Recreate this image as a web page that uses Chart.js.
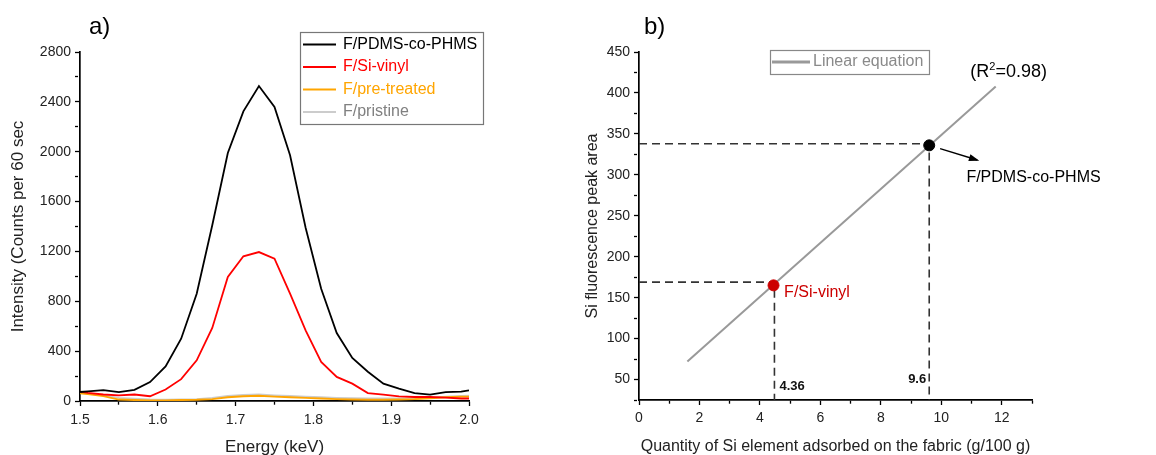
<!DOCTYPE html>
<html>
<head>
<meta charset="utf-8">
<script src="https://cdn.jsdelivr.net/npm/chart.js@4.4.0/dist/chart.umd.min.js"></script>
<style>
  body { margin: 0; background: #fff; overflow: hidden; }
  #wrap { position: relative; width: 1156px; height: 455px; }
  canvas { position: absolute; top: 0; }
  #chartA { left: 0; }
  #chartB { left: 578px; }
</style>
</head>
<body>
<div id="wrap">
  <canvas id="chartA" width="578" height="455"></canvas>
  <canvas id="chartB" width="578" height="455"></canvas>
</div>
<script>
// ---- panel a) : XRF spectra ----
var energy = [1.50, 1.51, 1.53, 1.55, 1.57, 1.59, 1.61, 1.63, 1.65, 1.67, 1.69, 1.71, 1.73, 1.75,
              1.77, 1.79, 1.81, 1.83, 1.85, 1.87, 1.89, 1.91, 1.93, 1.95, 1.97, 1.99, 2.00];
var pdms = [72, 78, 88, 72, 90, 152, 278, 500, 861, 1410, 1990, 2324, 2527, 2359,
            1971, 1390, 901, 545, 345, 235, 139, 99, 64, 51, 72, 75, 85];
var siVinyl = [75, 65, 52, 45, 52, 38, 92, 175, 326, 586, 995, 1161, 1195, 1142,
               861, 567, 313, 193, 139, 64, 51, 37, 32, 32, 27, 20, 20];
var preTreated = [62, 55, 40, 12, 8, 5, 5, 8, 10, 15, 30, 38, 42, 35,
                  30, 25, 20, 15, 12, 10, 10, 12, 15, 22, 30, 35, 35];
var pristine = [65, 60, 45, 25, 18, 12, 10, 12, 15, 25, 40, 48, 52, 45,
                40, 35, 30, 25, 22, 20, 20, 20, 20, 25, 35, 40, 42];
var seriesNames = ['F/PDMS-co-PHMS', 'F/Si-vinyl', 'F/pre-treated', 'F/pristine'];

// ---- panel b) : calibration ----
var fitX = [1.6, 11.8];
var fitY = [72, 408];
var sampleNames = ['F/Si-vinyl', 'F/PDMS-co-PHMS'];
var sampleX = [4.45, 9.6];
var sampleY = [165, 336];
var guideX = [4.48, 9.6];
var guideY = [169, 338];
var guideLabels = ['4.36', '9.6'];

var FONT = "'Liberation Sans', Arial, sans-serif";
var lineColors = ['#000000', '#ff0000', '#ffa500', '#cccccc'];
var textColors = ['#000000', '#ff0000', '#ffa500', '#808080'];

function pts(xs, ys) {
  return xs.map(function (x, i) { return { x: x, y: ys[i] }; });
}

// major ticks full length, minor ticks cut short with a dash pattern
function tickGrid(isMajor) {
  return {
    display: true,
    drawOnChartArea: false,
    drawTicks: true,
    tickLength: 5,
    tickColor: '#000',
    tickWidth: 1.3,
    tickBorderDash: function (ctx) { return isMajor(ctx.tick.value) ? [] : [3, 30]; }
  };
}

var seriesData = [pdms, siVinyl, preTreated, pristine];

var legendA = {
  id: 'legendA',
  afterDraw: function (chart) {
    var c = chart.ctx;
    c.save();
    c.font = '24px ' + FONT;
    c.fillStyle = '#000';
    c.textBaseline = 'middle';
    c.fillText('a)', 89, 27);
    c.strokeStyle = '#777';
    c.lineWidth = 1.2;
    c.fillStyle = '#fff';
    c.fillRect(300, 32, 183, 92);
    c.strokeRect(300.5, 32.5, 183, 92);
    c.font = '16px ' + FONT;
    for (var i = 0; i < seriesNames.length; i++) {
      var y = 44.5 + i * 22.5;
      c.strokeStyle = lineColors[i];
      c.lineWidth = 1.8;
      c.beginPath();
      c.moveTo(303, y);
      c.lineTo(336, y);
      c.stroke();
      c.fillStyle = textColors[i];
      c.fillText(seriesNames[i], 343, y);
    }
    c.restore();
  }
};

new Chart(document.getElementById('chartA').getContext('2d'), {
  type: 'line',
  data: {
    datasets: seriesNames.map(function (name, i) {
      return {
        label: name,
        data: pts(energy, seriesData[i]),
        borderColor: lineColors[i],
        borderWidth: 1.8,
        pointRadius: 0,
        tension: 0,
        fill: false
      };
    })
  },
  options: {
    responsive: false,
    animation: false,
    devicePixelRatio: 1,
    layout: { padding: { left: 0, top: 52, right: 109, bottom: 0 } },
    plugins: { legend: { display: false }, tooltip: { enabled: false } },
    scales: {
      x: {
        type: 'linear', min: 1.5, max: 2.0,
        afterFit: function (s) { s.height = 54; },
        border: { display: true, color: '#000', width: 1.7 },
        grid: tickGrid(function (v) { return Math.round(v * 100) % 10 === 0; }),
        ticks: {
          stepSize: 0.05, autoSkip: false, maxRotation: 0, padding: 6,
          color: '#222', font: { family: FONT, size: 14 },
          callback: function (v) { return Math.round(v * 100) % 10 === 0 ? v.toFixed(1) : ''; }
        },
        title: { display: true, text: 'Energy (keV)', color: '#222',
                 font: { family: FONT, size: 17 }, padding: { top: 0, bottom: -3 } }
      },
      y: {
        type: 'linear', min: 0, max: 2800,
        afterFit: function (s) { s.width = 80; },
        border: { display: true, color: '#000', width: 1.7 },
        grid: tickGrid(function (v) { return v % 400 === 0; }),
        ticks: {
          stepSize: 200, autoSkip: false, padding: 4,
          color: '#222', font: { family: FONT, size: 14 },
          callback: function (v) { return v % 400 === 0 ? v : ''; }
        },
        title: { display: true, text: 'Intensity (Counts per 60 sec', color: '#222',
                 font: { family: FONT, size: 17 }, padding: { top: 8, bottom: 0 } }
      }
    }
  },
  plugins: [legendA]
});

var annotB = {
  id: 'annotB',
  afterDraw: function (chart) {
    var c = chart.ctx, xs = chart.scales.x, ys = chart.scales.y;
    function px(v) { return xs.getPixelForValue(v); }
    function py(v) { return ys.getPixelForValue(v); }
    c.save();
    c.textBaseline = 'middle';
    c.font = '24px ' + FONT;
    c.fillStyle = '#000';
    c.fillText('b)', 66, 27);

    // legend box
    c.fillStyle = '#fff';
    c.fillRect(192, 50, 159, 24);
    c.strokeStyle = '#888';
    c.lineWidth = 1.2;
    c.strokeRect(192.5, 50.5, 159, 24);
    c.strokeStyle = '#999';
    c.lineWidth = 3;
    c.beginPath(); c.moveTo(194, 62); c.lineTo(232, 62); c.stroke();
    c.font = '16px ' + FONT;
    c.fillStyle = '#8a8a8a';
    c.fillText('Linear equation', 235, 62);

    // R^2 label
    c.fillStyle = '#000';
    c.font = '18px ' + FONT;
    var x0 = px(10.96), y0 = py(426);
    c.fillText('(R', x0, y0);
    var w = c.measureText('(R').width;
    c.font = '11px ' + FONT;
    c.fillText('2', x0 + w, y0 - 5);
    var w2 = c.measureText('2').width;
    c.font = '18px ' + FONT;
    c.fillText('=0.98)', x0 + w + w2, y0);

    // sample labels
    c.font = '16px ' + FONT;
    c.fillStyle = '#cc0000';
    c.fillText(sampleNames[0], px(4.8), py(156));
    c.fillStyle = '#000';
    c.fillText(sampleNames[1], px(10.83), py(297));

    // arrow
    var ax1 = px(9.96), ay1 = py(332), ax2 = px(11.19), ay2 = py(318);
    c.strokeStyle = '#000';
    c.lineWidth = 1.5;
    c.beginPath(); c.moveTo(ax1, ay1); c.lineTo(ax2, ay2); c.stroke();
    var ang = Math.atan2(ay2 - ay1, ax2 - ax1);
    c.beginPath();
    c.moveTo(ax2 + 2, ay2 + 2 * Math.tan(ang));
    c.lineTo(ax2 - 9 * Math.cos(ang - 0.4), ay2 - 9 * Math.sin(ang - 0.4));
    c.lineTo(ax2 - 9 * Math.cos(ang + 0.4), ay2 - 9 * Math.sin(ang + 0.4));
    c.closePath();
    c.fill();

    // guide values
    c.font = 'bold 13px ' + FONT;
    c.fillStyle = '#111';
    c.textAlign = 'left';
    c.fillText(guideLabels[0], px(guideX[0]) + 5, py(42));
    c.textAlign = 'right';
    c.fillText(guideLabels[1], px(guideX[1]) - 3, py(50));
    c.restore();
  }
};

var guideSets = guideX.map(function (gx, i) {
  return {
    type: 'line',
    data: [{ x: 0, y: guideY[i] }, { x: gx, y: guideY[i] }, { x: gx, y: 25 }],
    borderColor: '#333',
    borderWidth: 1.6,
    borderDash: [8, 5],
    pointRadius: 0,
    tension: 0
  };
});

new Chart(document.getElementById('chartB').getContext('2d'), {
  type: 'scatter',
  data: {
    datasets: [
      {
        type: 'scatter',
        label: 'samples',
        data: pts(sampleX, sampleY),
        pointRadius: 5.5,
        pointBackgroundColor: ['#cc0000', '#000000'],
        pointBorderColor: ['#cc0000', '#000000']
      },
      {
        type: 'line',
        label: 'Linear equation',
        data: pts(fitX, fitY),
        borderColor: '#999',
        borderWidth: 2,
        pointRadius: 0,
        tension: 0
      }
    ].concat(guideSets)
  },
  options: {
    responsive: false,
    animation: false,
    devicePixelRatio: 1,
    layout: { padding: { left: 0, top: 52, right: 124, bottom: 0 } },
    plugins: { legend: { display: false }, tooltip: { enabled: false } },
    scales: {
      x: {
        type: 'linear', min: 0, max: 13,
        afterFit: function (s) { s.height = 55; },
        border: { display: true, color: '#000', width: 1.7 },
        grid: tickGrid(function (v) { return v % 2 === 0; }),
        ticks: {
          stepSize: 1, autoSkip: false, maxRotation: 0, padding: 5,
          color: '#222', font: { family: FONT, size: 14 },
          callback: function (v) { return v % 2 === 0 ? v : ''; }
        },
        title: { display: true, text: 'Quantity of Si element adsorbed on the fabric (g/100 g)',
                 color: '#222', font: { family: FONT, size: 16 }, padding: { top: 0, bottom: -1 } }
      },
      y: {
        type: 'linear', min: 25, max: 450,
        afterFit: function (s) { s.width = 61; },
        border: { display: true, color: '#000', width: 1.7 },
        grid: tickGrid(function (v) { return v % 50 === 0; }),
        ticks: {
          stepSize: 25, autoSkip: false, padding: 4,
          color: '#222', font: { family: FONT, size: 14 },
          callback: function (v) { return v % 50 === 0 ? v : ''; }
        },
        title: { display: true, text: 'Si fluorescence peak area', color: '#222',
                 font: { family: FONT, size: 16 }, padding: { top: 5, bottom: 0 } }
      }
    }
  },
  plugins: [annotB]
});
</script>
</body>
</html>
